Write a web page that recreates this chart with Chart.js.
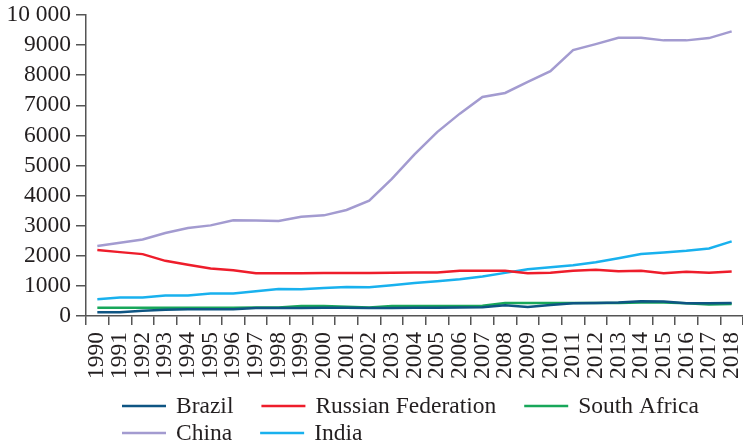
<!DOCTYPE html>
<html>
<head>
<meta charset="utf-8">
<script src="https://cdn.jsdelivr.net/npm/chart.js@4.4.0/dist/chart.umd.min.js"></script>
<style>
  html, body { margin: 0; padding: 0; background: #fff; }
  #wrap { width: 743px; height: 445px; }
</style>
</head>
<body>
<div id="wrap"><canvas id="chart"></canvas></div>
<script>
const years = ["1990","1991","1992","1993","1994","1995","1996","1997","1998","1999",
  "2000","2001","2002","2003","2004","2005","2006","2007","2008","2009",
  "2010","2011","2012","2013","2014","2015","2016","2017","2018"];

const brazil = [122, 122, 178, 211, 222, 222, 225, 267, 267, 268,
  270, 270, 262, 268, 270, 278, 280, 289, 356, 300,
  367, 422, 433, 445, 489, 478, 422, 422, 433];
const russia = [2189, 2122, 2056, 1833, 1700, 1578, 1522, 1422, 1422, 1422,
  1425, 1428, 1430, 1433, 1444, 1444, 1500, 1500, 1500, 1422,
  1433, 1500, 1533, 1489, 1500, 1422, 1467, 1433, 1478];
const southAfrica = [278, 278, 278, 278, 278, 278, 278, 280, 283, 333,
  333, 311, 280, 333, 333, 333, 333, 340, 433, 433,
  433, 433, 433, 433, 445, 445, 422, 378, 400];
const china = [2323, 2433, 2544, 2756, 2922, 3011, 3178, 3170, 3156, 3300,
  3344, 3522, 3833, 4556, 5367, 6110, 6723, 7277, 7410, 7777,
  8133, 8833, 9033, 9243, 9243, 9157, 9157, 9233, 9457];
const india = [556, 611, 611, 678, 678, 744, 744, 822, 900, 888,
  933, 967, 955, 1022, 1100, 1156, 1222, 1311, 1433, 1556,
  1622, 1689, 1789, 1922, 2056, 2111, 2167, 2244, 2478];

const yTickLabels = ["0","1000","2000","3000","4000","5000","6000","7000","8000","9000","10 000"];

const seriesNames = ["Brazil", "Russian Federation", "South Africa", "China", "India"];
const seriesColors = ["#0e5583", "#ee1d2b", "#18a75a", "#a39bd0", "#19b1ee"];
const legendRows = [[0, 1, 2], [3, 4]];

const FONT = '"Liberation Serif", "Times New Roman", serif';
const TEXT = "#231f20";
const AXIS = "#555555";

// legend drawn by hand: two rows under the axis labels
const rowLegend = {
  id: "rowLegend",
  afterDraw(chart) {
    const ctx = chart.ctx;
    ctx.save();
    ctx.font = "23.5px " + FONT;
    ctx.textBaseline = "middle";
    ctx.fillStyle = TEXT;
    const rowY = [406, 433];
    legendRows.forEach((row, r) => {
      let x = 122;
      row.forEach(i => {
        ctx.strokeStyle = seriesColors[i];
        ctx.lineWidth = 2.5;
        ctx.beginPath();
        ctx.moveTo(x, rowY[r]);
        ctx.lineTo(x + 44, rowY[r]);
        ctx.stroke();
        ctx.fillText(seriesNames[i], x + 54, rowY[r] + 1);
        x += 54 + ctx.measureText(seriesNames[i]).width + 28;
      });
    });
    ctx.restore();
  }
};

const allData = [brazil, russia, southAfrica, china, india];

new Chart(document.getElementById("chart"), {
  type: "line",
  data: {
    labels: years,
    datasets: allData.map((d, i) => ({
      label: seriesNames[i],
      data: d,
      borderColor: seriesColors[i],
      backgroundColor: seriesColors[i],
      borderWidth: 2.5,
      pointRadius: 0,
      tension: 0,
    })),
  },
  options: {
    responsive: true,
    maintainAspectRatio: false,
    animation: false,
    layout: { padding: { top: 15, right: 0, left: 0, bottom: 66 } },
    plugins: {
      legend: { display: false },
      tooltip: { enabled: false },
    },
    scales: {
      x: {
        offset: true,
        grid: {
          offset: true,
          drawOnChartArea: false,
          tickLength: 9,
          color: AXIS,
          lineWidth: 1.5,
        },
        border: { color: AXIS, width: 1.5 },
        ticks: {
          autoSkip: false,
          minRotation: 90,
          maxRotation: 90,
          padding: 7,
          color: TEXT,
          font: { family: FONT, size: 23.5 },
        },
        afterFit(scale) {
          scale.height = 63;
          scale.paddingLeft = 0;
          scale.paddingRight = 0;
        },
      },
      y: {
        min: 0,
        max: 10000,
        grid: {
          drawOnChartArea: false,
          tickLength: 10,
          color: AXIS,
          lineWidth: 1.5,
        },
        border: { color: AXIS, width: 1.5 },
        ticks: {
          autoSkip: false,
          stepSize: 1000,
          padding: 5,
          color: TEXT,
          font: { family: FONT, size: 23.5 },
          callback: (v, idx) => yTickLabels[idx],
        },
        afterFit(scale) {
          scale.width = 86;
          scale.paddingTop = 0;
          scale.paddingBottom = 0;
        },
      },
    },
  },
  plugins: [rowLegend],
});
</script>
</body>
</html>
